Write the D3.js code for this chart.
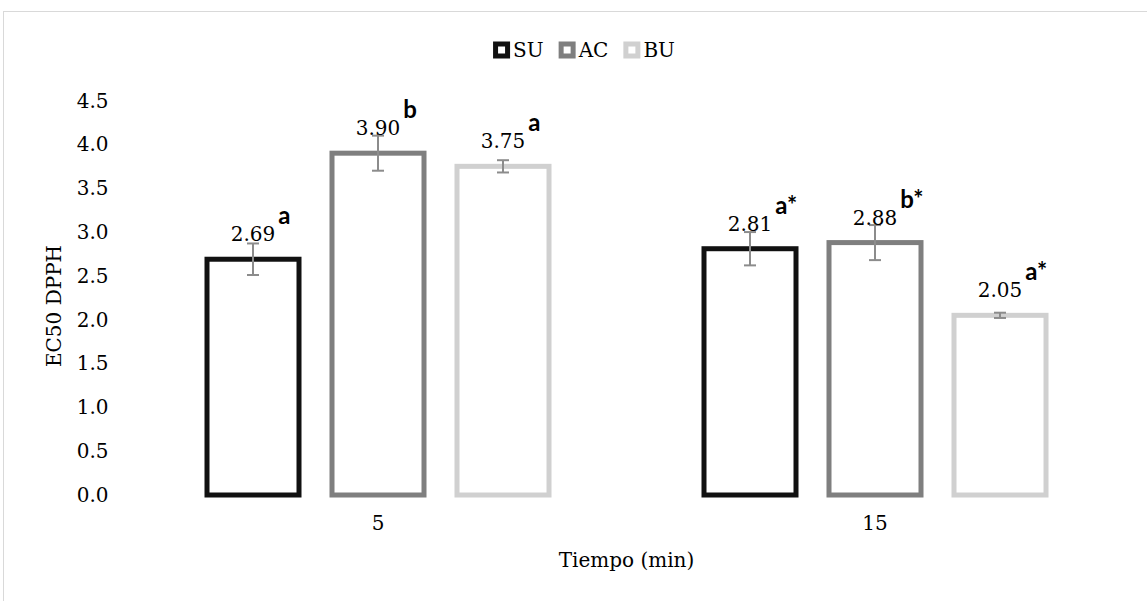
<!DOCTYPE html>
<html>
<head>
<meta charset="utf-8">
<title>EC50 DPPH</title>
<script src="https://cdn.jsdelivr.net/npm/d3@7"></script>
<style>
  body { margin: 0; background: #fff; }
  svg { display: block; font-family: 'DejaVu Serif', serif; }
  .sig { font-family: Lato, 'Open Sans', sans-serif; font-weight: bold; }
</style>
</head>
<body>
<div id="chart"></div>
<script>
  // datos
  const times = ['5', '15']
  const series = ['SU', 'AC', 'BU']
  const su = [2.69, 2.81]
  const ac = [3.90, 2.88]
  const bu = [3.75, 2.05]
  const suErr = [0.18, 0.19]
  const acErr = [0.20, 0.20]
  const buErr = [0.07, 0.03]
  const suSig = ['a', 'a*']
  const acSig = ['b', 'b*']
  const buSig = ['a', 'a*']
  const yTicks = [0, 0.5, 1, 1.5, 2, 2.5, 3, 3.5, 4, 4.5]

  const strokeCol = { SU: '#111111', AC: '#7f7f7f', BU: '#d0d0d0' }

  const W = 1147, H = 601
  const svg = d3.select('#chart').append('svg').attr('width', W).attr('height', H)

  // marco del grafico
  svg.append('rect').attr('x', 3.5).attr('y', 11.5).attr('width', W).attr('height', H)
    .attr('fill', 'none').attr('stroke', '#d9d9d9').attr('stroke-width', 1)

  const y = d3.scaleLinear().domain([0, 4.5]).range([495, 100.6])
  const x0 = d3.scaleBand().domain(times).range([129.5, 1123.5])
  const x1 = d3.scaleBand().domain(series).range([0, x0.bandwidth()])
    .paddingInner(0.224).paddingOuter(0.6)

  // filas de datos
  const vals = { SU: su, AC: ac, BU: bu }
  const errs = { SU: suErr, AC: acErr, BU: buErr }
  const sigs = { SU: suSig, AC: acSig, BU: buSig }
  let rows = []
  times.forEach((t, i) => {
    series.forEach(s => {
      rows.push({ t: t, s: s, v: vals[s][i], e: errs[s][i], sig: sigs[s][i] })
    })
  })

  // eje y
  const yAxis = svg.append('g').attr('transform', 'translate(129.5,0)')
    .call(d3.axisLeft(y).tickValues(yTicks).tickFormat(d3.format('.1f')).tickSize(0).tickPadding(21))
  yAxis.select('.domain').remove()
  yAxis.selectAll('text').attr('font-family', 'DejaVu Serif').attr('font-size', 20).attr('fill', '#000')

  // eje x
  const xAxis = svg.append('g').attr('transform', 'translate(0,495)')
    .call(d3.axisBottom(x0).tickSize(0).tickPadding(21))
  xAxis.select('.domain').remove()
  xAxis.selectAll('text').attr('font-family', 'DejaVu Serif').attr('font-size', 20).attr('fill', '#000')

  // titulos
  svg.append('text').attr('x', 626.5).attr('y', 567).attr('text-anchor', 'middle')
    .attr('font-size', 20).text('Tiempo (min)')
  svg.append('text').attr('transform', 'translate(61,306) rotate(-90)').attr('text-anchor', 'middle')
    .attr('font-size', 20).text('EC50 DPPH')

  // barras
  const sw = 5
  const g = svg.append('g')
  g.selectAll('rect.bar').data(rows).join('rect').attr('class', 'bar')
    .attr('x', d => x0(d.t) + x1(d.s) + sw / 2)
    .attr('width', x1.bandwidth() - sw)
    .attr('y', d => y(d.v))
    .attr('height', d => y(0) - y(d.v))
    .attr('fill', '#fff')
    .attr('stroke', d => strokeCol[d.s])
    .attr('stroke-width', sw)

  // barras de error
  const cx = d => x0(d.t) + x1(d.s) + x1.bandwidth() / 2
  const eb = g.selectAll('g.err').data(rows).join('g').attr('class', 'err')
    .attr('stroke', '#8c8c8c').attr('stroke-width', 2)
  eb.append('line').attr('x1', cx).attr('x2', cx).attr('y1', d => y(d.v + d.e)).attr('y2', d => y(d.v - d.e))
  eb.append('line').attr('x1', d => cx(d) - 6).attr('x2', d => cx(d) + 6).attr('y1', d => y(d.v + d.e)).attr('y2', d => y(d.v + d.e))
  eb.append('line').attr('x1', d => cx(d) - 6).attr('x2', d => cx(d) + 6).attr('y1', d => y(d.v - d.e)).attr('y2', d => y(d.v - d.e))

  // etiquetas de valor y letras
  const lab = g.selectAll('g.lab').data(rows).join('g').attr('class', 'lab')
  lab.append('text').attr('class', 'val')
    .attr('x', cx).attr('y', d => y(d.v) - 18)
    .attr('text-anchor', 'middle').attr('font-size', 20)
    .text(d => d3.format('.2f')(d.v))
  lab.append('text').attr('class', 'sig')
    .attr('x', function (d) {
      const w = this.parentNode.querySelector('.val').getComputedTextLength()
      return cx(d) + w / 2 + 3
    })
    .attr('y', d => y(d.v) - 35)
    .attr('font-size', 24)
    .text(d => d.sig)

  // leyenda
  const leg = svg.append('g')
  let lx = 0
  series.forEach(s => {
    leg.append('rect').attr('x', lx + 2.5).attr('y', 50 - 6).attr('width', 12).attr('height', 12)
      .attr('fill', '#fff').attr('stroke', strokeCol[s]).attr('stroke-width', 5)
    const t = leg.append('text').attr('x', lx + 20).attr('y', 57).attr('font-size', 20).text(s)
    lx += 20 + t.node().getComputedTextLength() + 15
  })
  const legW = lx - 15
  leg.attr('transform', `translate(${584 - legW / 2},0)`)
</script>
</body>
</html>
